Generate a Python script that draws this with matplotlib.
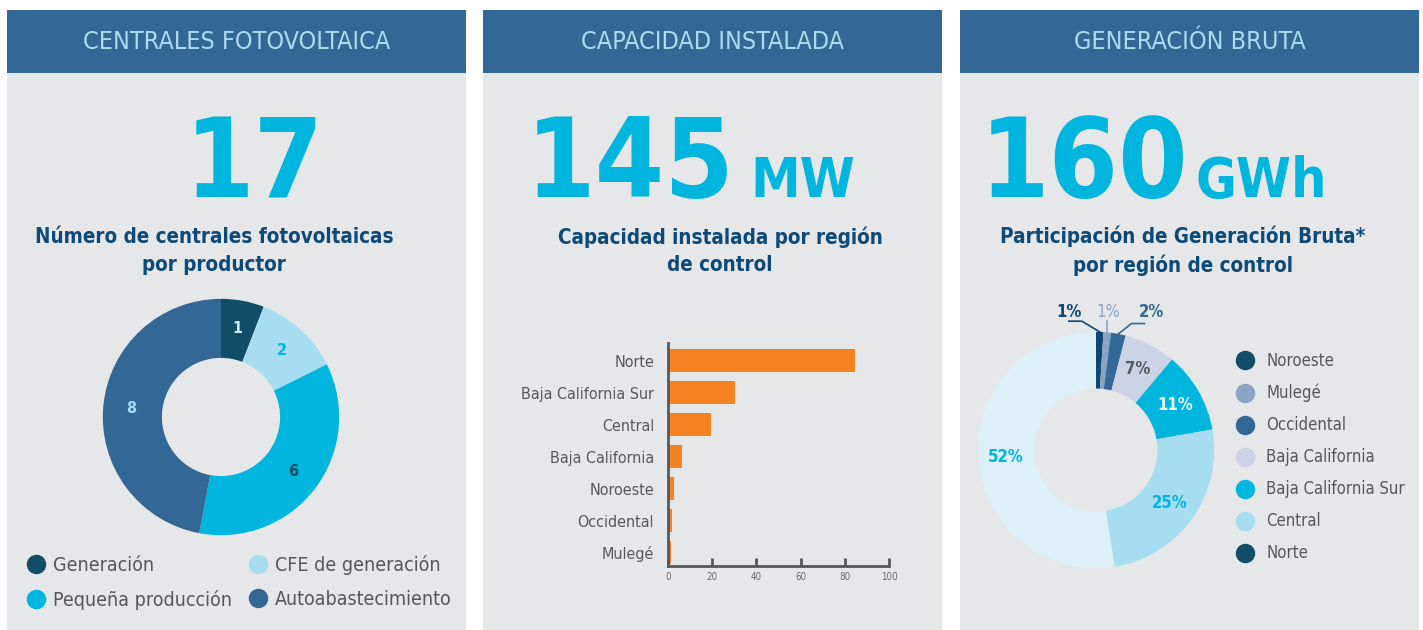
import numpy as np
import matplotlib.pyplot as plt
from matplotlib.patches import Rectangle
from matplotlib.lines import Line2D

# ---- data ----
panel_titles = ['CENTRALES FOTOVOLTAICA', 'CAPACIDAD INSTALADA', 'GENERACIÓN BRUTA']
big_numbers = ['17', '145', '160']
big_units = ['', 'MW', 'GWh']
subtitles = ['Número de centrales fotovoltaicas\npor productor',
             'Capacidad instalada por región\nde control',
             'Participación de Generación Bruta*\npor región de control']

prod_labels = ['Generación', 'CFE de generación', 'Pequeña producción', 'Autoabastecimiento']
prod_counts = [1, 2, 6, 8]

cap_regions = ['Norte', 'Baja California Sur', 'Central', 'Baja California',
               'Noroeste', 'Occidental', 'Mulegé']
cap_mw = [84.5, 30.2, 19.5, 6.3, 2.7, 1.8, 1.4]
cap_ticks = [0, 20, 40, 60, 80, 100]

gen_regions = ['Noroeste', 'Mulegé', 'Occidental', 'Baja California',
               'Baja California Sur', 'Central', 'Norte']
gen_pct = [1, 1, 2, 7, 11, 25, 52]

# ---- styles ----
W, H = 1423, 630
HEADER = '#336896'
HEADER_TXT = '#a9dcef'
BODY = '#e6e7e9'
CYAN = '#00b5de'
NAVY = '#0d4a7a'
GREY = '#55595d'
ORANGE = '#f58220'
prod_colors = ['#114d66', '#a6ddf0', '#00b5de', '#336896']
prod_txt = ['#cfe9f3', '#00b5de', '#114d66', '#a6ddf0']
gen_colors = ['#0f4672', '#8aa3c6', '#346899', '#cdd3e6', '#00b6dd', '#a6ddf0', '#ddf0f8']
gen_legend_colors = ['#114d66', '#8aa3c6', '#336896', '#cdd3e6', '#00b6dd', '#a6ddf0', '#114d66']
gen_txt = ['#0f4672', '#8aa3c6', '#336896', '#55595d', '#e8f6fb', '#00b5de', '#00b5de']

plt.rcParams['font.family'] = ['DejaVu Sans']
plt.rcParams['font.stretch'] = 'condensed'

fig = plt.figure(figsize=(W / 100, H / 100), dpi=100)
fig.patch.set_facecolor('white')

bg = fig.add_axes([0, 0, 1, 1])
bg.set_xlim(0, W)
bg.set_ylim(H, 0)
bg.axis('off')

panel_x = [7, 483, 960]
pw = 459
num_right = [None, 735, 1188]
num_center = [254, None, None]
unit_left = [None, 750, 1196]
sub_x = [214, 720, 1183]
for i, x0 in enumerate(panel_x):
    bg.add_patch(Rectangle((x0, 10), pw, 63, color=HEADER, lw=0))
    bg.add_patch(Rectangle((x0, 73), pw, H - 73, color=BODY, lw=0))
    bg.text(x0 + pw / 2, 42, panel_titles[i], ha='center', va='center',
            fontsize=18, color=HEADER_TXT)
    if big_units[i]:
        bg.text(num_right[i], 197, big_numbers[i], ha='right', va='baseline',
                fontsize=80, color=CYAN, fontweight='bold')
        bg.text(unit_left[i], 197, big_units[i], ha='left', va='baseline',
                fontsize=40, color=CYAN, fontweight='bold')
    else:
        bg.text(num_center[i], 197, big_numbers[i], ha='center', va='baseline',
                fontsize=80, color=CYAN, fontweight='bold')
    bg.text(sub_x[i], 251, subtitles[i], ha='center', va='center',
            multialignment='center', fontsize=14.8, color=NAVY,
            fontweight='bold', linespacing=1.45)


def mid_angles(vals):
    vals = np.asarray(vals, dtype=float)
    cum = np.cumsum(vals)
    return np.deg2rad(90 - (cum - vals / 2) / vals.sum() * 360)


# ---- donut 1 ----
cx, cy, s = 221, 417, 130
ax1 = fig.add_axes([(cx - s) / W, 1 - (cy + s) / H, 2 * s / W, 2 * s / H])
ax1.pie(prod_counts, colors=prod_colors, startangle=90, counterclock=False,
        radius=1, wedgeprops=dict(width=0.5, edgecolor='none'))
ax1.set_xlim(-1.1, 1.1)
ax1.set_ylim(-1.1, 1.1)
for a, v, c in zip(mid_angles(prod_counts), prod_counts, prod_txt):
    ax1.text(0.76 * np.cos(a), 0.76 * np.sin(a), str(v), ha='center', va='center',
             fontsize=11.5, color=c, fontweight='bold')

h1 = [Line2D([], [], ls='none', marker='o', markersize=13, color=c) for c in prod_colors]
order = [0, 2, 1, 3]
fig.legend([h1[k] for k in order], [prod_labels[k] for k in order], ncol=2,
           loc='upper left', bbox_to_anchor=(26 / W, 1 - 555 / H), frameon=False,
           fontsize=14, labelcolor=GREY, handlelength=1, handletextpad=0.38,
           columnspacing=0.84, labelspacing=0.75, borderpad=0, borderaxespad=0)

# ---- bar chart ----
ax2 = fig.add_axes([668 / W, 1 - 566 / H, 221 / W, 223 / H])
ax2.set_facecolor('none')
ypos = np.arange(len(cap_regions))[::-1]
ax2.barh(ypos, cap_mw, height=0.72, color=ORANGE)
ax2.set_xlim(0, 100)
ax2.set_ylim(-0.41, len(cap_regions) - 0.44)
ax2.set_yticks(ypos)
ax2.set_yticklabels(cap_regions)
ax2.set_xticks(cap_ticks)
for sp in ['top', 'right']:
    ax2.spines[sp].set_visible(False)
for sp in ['left', 'bottom']:
    ax2.spines[sp].set_color(GREY)
    ax2.spines[sp].set_linewidth(2)
ax2.tick_params(axis='x', direction='in', length=6, width=2, color=GREY,
                labelsize=7, labelcolor='#666a6e', pad=4)
ax2.tick_params(axis='y', length=0, labelsize=11.5, labelcolor=GREY, pad=10)

# ---- donut 3 ----
cx, cy = 1096, 450
ax3 = fig.add_axes([(cx - s) / W, 1 - (cy + s) / H, 2 * s / W, 2 * s / H])
ax3.pie(gen_pct, colors=gen_colors, startangle=90, counterclock=False,
        radius=1, wedgeprops=dict(width=0.48, edgecolor='none'))
ax3.set_xlim(-1.1, 1.1)
ax3.set_ylim(-1.1, 1.1)
angs = mid_angles(gen_pct)
small_lab = [-0.23, 0.10, 0.47]
for k, (a, v, c) in enumerate(zip(angs, gen_pct, gen_txt)):
    if k < 3:
        ex, ey = np.cos(a), np.sin(a)
        ky = 1.09
        if k == 0:
            xs, ys = [ex, -0.12, -0.23], [ey, ky, ky]
        elif k == 1:
            xs, ys = [ex, ex], [ey, ky]
        else:
            xs, ys = [ex, 0.30, 0.41], [ey, ky - 0.02, ky - 0.02]
        ax3.plot(xs, ys, color=c, lw=1.2, clip_on=False)
        ax3.text(small_lab[k], 1.17, f'{v}%', ha='center', va='center', fontsize=12,
                 color=c, fontweight='bold' if k != 1 else 'normal', clip_on=False)
    else:
        r = 0.77
        ax3.text(r * np.cos(a), r * np.sin(a), f'{v}%', ha='center', va='center',
                 fontsize=12, color=c, fontweight='bold')

h3 = [Line2D([], [], ls='none', marker='o', markersize=13, color=c) for c in gen_legend_colors]
fig.legend(h3, gen_regions, loc='upper left', bbox_to_anchor=(1237 / W, 1 - 352 / H),
           frameon=False, fontsize=12, labelcolor=GREY, handlelength=1,
           handletextpad=0.75, labelspacing=0.84, borderpad=0, borderaxespad=0)

fig.savefig('out.png', dpi=100, facecolor='white')
